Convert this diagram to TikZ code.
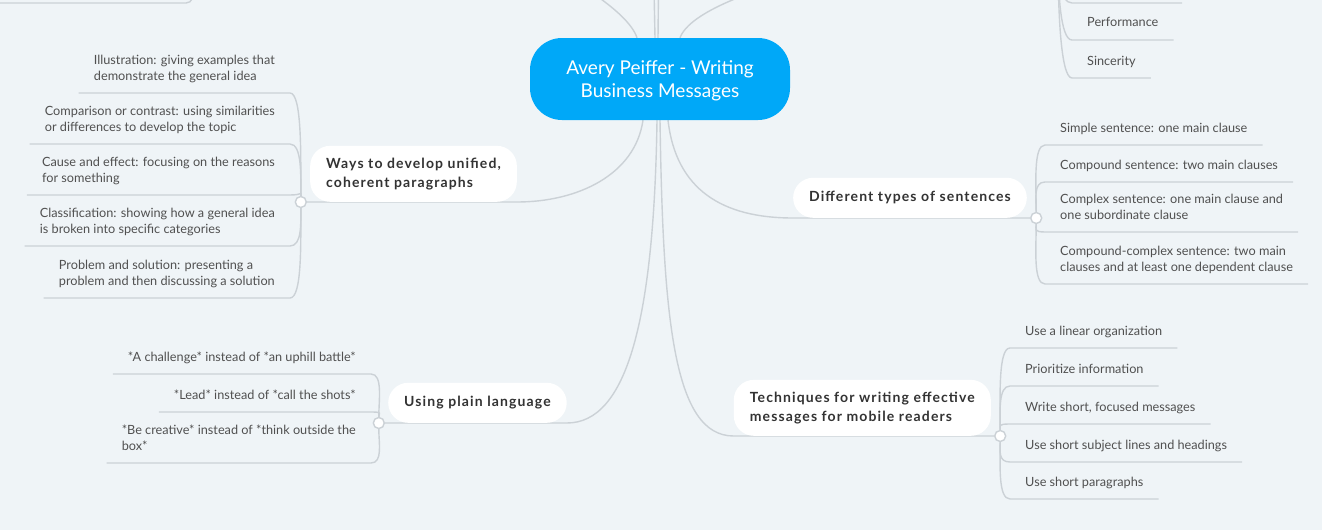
\documentclass[tikz,border=0pt]{standalone}
\usepackage{fontspec}
\setmainfont{Lato}
\newfontfamily\branchfont[LetterSpace=8]{Lato}
\usepackage{xcolor}
\usetikzlibrary{positioning}
\definecolor{bgcol}{HTML}{EFF4F7}
\definecolor{rootblue}{HTML}{00A8F8}
\definecolor{linegray}{HTML}{CBD1D6}
\definecolor{leaftext}{HTML}{505050}
\definecolor{branchtext}{HTML}{333333}
\pgfdeclarelayer{bg}
\pgfdeclarelayer{lines}
\pgfsetlayers{bg,lines,main}
\tikzset{
  upL/.style={out=90,in=0,in distance=12pt},
  downL/.style={out=-90,in=0,in distance=12pt},
  upR/.style={out=90,in=180,in distance=12pt},
  downR/.style={out=-90,in=180,in distance=12pt}
}

\begin{document}
\begin{tikzpicture}[x=1pt,y=-1pt,
  rootnode/.style={fill=rootblue, text=white, rounded corners=32pt, minimum width=260pt, minimum height=82pt, align=center, font=\fontsize{19}{23}\selectfont},
  branchnode/.style={fill=white, text=branchtext, rounded corners=20pt, inner xsep=16pt, inner ysep=12pt, minimum height=40pt, align=left, font=\branchfont\bfseries\fontsize{14}{19}\selectfont},
  leafnode/.style={text=leaftext, inner xsep=15pt, inner ysep=8pt, align=left, font=\fontsize{12.7}{16}\selectfont, execute at end node=\strut},
  dotnode/.style={circle, draw=linegray, line width=1.4pt, fill=white, minimum size=11pt, inner sep=0pt},
  link/.style={draw=linegray, line width=1.4pt}]
\useasboundingbox (0,0) rectangle (1322,530);
\begin{pgfonlayer}{bg}
\fill[bgcol] (0,0) rectangle (1322,530);
\end{pgfonlayer}

\node[rootnode, text depth=-2pt] (root) at (660,79) {Avery Peiffer - Writing\\Business Messages};

\node[branchnode, anchor=south west] (paras) at (310,202) {Ways to develop unified,\\coherent paragraphs};
\node[branchnode, anchor=south west] (plain) at (388,423) {Using plain language};
\node[branchnode, anchor=south east] (types) at (1027,218) {Different types of sentences};
\node[branchnode, anchor=south east] (mobile) at (991,436) {Techniques for writing effective\\messages for mobile readers};

\node[dotnode, left=3pt of paras.south west] (paras-dot) {};
\node[dotnode, left=3pt of plain.south west] (plain-dot) {};
\node[dotnode, right=3pt of types.south east] (types-dot) {};
\node[dotnode, right=3pt of mobile.south east] (mobile-dot) {};

\node[leafnode, anchor=south east] (illus) at (290,93) {Illustration: giving examples that\\demonstrate the general idea};
\node[leafnode, anchor=south east] (compare) at (290,144) {Comparison or contrast: using similarities\\or differences to develop the topic};
\node[leafnode, anchor=south east] (cause) at (290,195) {Cause and effect: focusing on the reasons\\for something};
\node[leafnode, anchor=south east] (classif) at (290,246) {Classification: showing how a general idea\\is broken into specific categories};
\node[leafnode, anchor=south east] (problem) at (290,298) {Problem and solution: presenting a\\problem and then discussing a solution};

\node[leafnode, anchor=south east] (challenge) at (371,374) {*A challenge* instead of *an uphill battle*};
\node[leafnode, anchor=south east] (lead) at (371,412) {*Lead* instead of *call the shots*};
\node[leafnode, anchor=south east] (creative) at (371,463) {*Be creative* instead of *think outside the\\box*};

\node[leafnode, anchor=south west] (simple) at (1045,145) {Simple sentence: one main clause};
\node[leafnode, anchor=south west] (compound) at (1045,182) {Compound sentence: two main clauses};
\node[leafnode, anchor=south west] (complex) at (1045,232) {Complex sentence: one main clause and\\one subordinate clause};
\node[leafnode, anchor=south west] (compcomplex) at (1045,284) {Compound-complex sentence: two main\\clauses and at least one dependent clause};

\node[leafnode, anchor=south west] (linear) at (1010,348) {Use a linear organization};
\node[leafnode, anchor=south west] (prior) at (1010,386) {Prioritize information};
\node[leafnode, anchor=south west] (focused) at (1010,424) {Write short, focused messages};
\node[leafnode, anchor=south west] (subject) at (1010,462) {Use short subject lines and headings};
\node[leafnode, anchor=south west] (shortpar) at (1010,499) {Use short paragraphs};

\node[leafnode, anchor=south west] (perf) at (1072,40) {Performance};
\node[leafnode, anchor=south west] (sinc) at (1072,78) {Sincerity};

\coordinate (offleft) at (520,-45);
\coordinate (offmidA) at (653,-60);
\coordinate (offmidB) at (659,-60);
\coordinate (offright) at (800,-22);
\coordinate (topdot) at (1058,-45);
\coordinate (hidden) at (1072,3);
\coordinate (hidden-end) at (1182,3);
\coordinate (tlA) at (194,-40);
\coordinate (tlB) at (186,3);
\coordinate (tlC) at (-5,3);

\begin{pgfonlayer}{lines}
\draw[link] ([xshift=-23pt]root.north) .. controls +(-9,-28) and +(40,15) .. (offleft);
\draw[link] ([xshift=-5pt]root.north) -- (offmidA);
\draw[link] ([xshift=-2pt]root.north) -- (offmidB);
\draw[link] ([xshift=20pt]root.north) .. controls +(10,-27) and +(-40,10) .. (offright);

\draw[link] ([xshift=-17pt]root.south) .. controls +(-8,55) and +(60,0) .. (paras.south east) -- (paras-dot);
\draw[link] ([xshift=-3pt]root.south) .. controls +(-3,200) and +(60,0) .. (plain.south east) -- (plain-dot);
\draw[link] (root.south) .. controls +(3,200) and +(-60,0) .. (mobile.south west) -- (mobile-dot);
\draw[link] ([xshift=8pt]root.south) .. controls +(8,70) and +(-70,0) .. (types.south west) -- (types-dot);

\draw[link] (paras-dot) to[upL] (illus.south east) -- (illus.south west);
\draw[link] (paras-dot) to[upL] (compare.south east) -- (compare.south west);
\draw[link] (paras-dot) to[upL] (cause.south east) -- (cause.south west);
\draw[link] (paras-dot) to[downL] (classif.south east) -- (classif.south west);
\draw[link] (paras-dot) to[downL] (problem.south east) -- (problem.south west);

\draw[link] (plain-dot) to[upL] (challenge.south east) -- (challenge.south west);
\draw[link] (plain-dot) to[upL] (lead.south east) -- (lead.south west);
\draw[link] (plain-dot) to[downL] (creative.south east) -- (creative.south west);

\draw[link] (types-dot) to[upR] (simple.south west) -- (simple.south east);
\draw[link] (types-dot) to[upR] (compound.south west) -- (compound.south east);
\draw[link] (types-dot) to[downR] (complex.south west) -- (complex.south east);
\draw[link] (types-dot) to[downR] (compcomplex.south west) -- (compcomplex.south east);

\draw[link] (mobile-dot) to[upR] (linear.south west) -- (linear.south east);
\draw[link] (mobile-dot) to[upR] (prior.south west) -- (prior.south east);
\draw[link] (mobile-dot) to[upR] (focused.south west) -- (focused.south east);
\draw[link] (mobile-dot) to[downR] (subject.south west) -- (subject.south east);
\draw[link] (mobile-dot) to[downR] (shortpar.south west) -- (shortpar.south east);

\draw[link] (topdot) to[downR] (hidden) -- (hidden-end);
\draw[link] (topdot) to[downR] (perf.south west) -- (perf.south east);
\draw[link] (topdot) to[downR] (sinc.south west) -- (sinc.south east);
\draw[link] (tlA) to[downL] (tlB) -- (tlC);
\end{pgfonlayer}
\end{tikzpicture}
\end{document}
